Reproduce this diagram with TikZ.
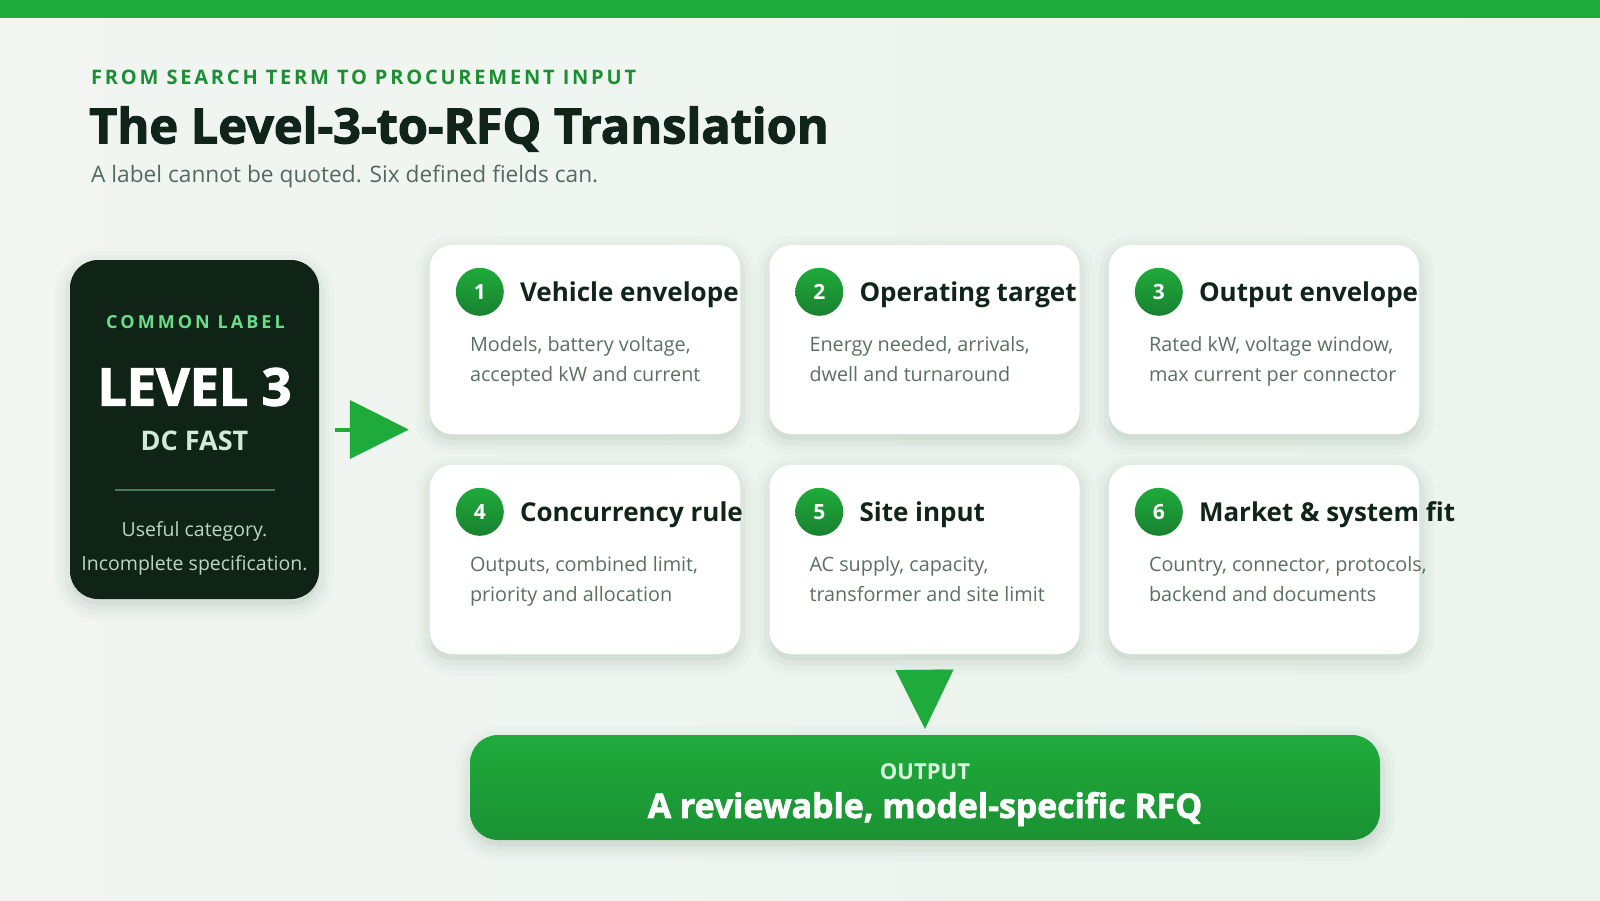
\documentclass[tikz,border=0pt]{standalone}
\usepackage{fontspec}
\setmainfont{Open Sans}
\newfontfamily\heavyfont[BoldFeatures={FakeBold=2.2}]{Open Sans}
\usetikzlibrary{positioning,calc,arrows.meta}

\definecolor{topgreen}{HTML}{1FAB3B}
\definecolor{kickgreen}{HTML}{1C8F34}
\definecolor{inkdark}{HTML}{10241A}
\definecolor{subgray}{HTML}{56695D}
\definecolor{bodygray}{HTML}{5C6F63}
\definecolor{darkcard}{HTML}{0F2417}
\definecolor{lightgreen}{HTML}{6BDC8A}
\definecolor{palegreen}{HTML}{CFEBD6}
\definecolor{notegreen}{HTML}{BCD6C2}
\definecolor{rulegreen}{HTML}{4B7A57}
\definecolor{outpale}{HTML}{D8F6DE}
\definecolor{bgleft}{HTML}{F2F5F2}
\definecolor{bgright}{HTML}{EAF4EC}
\definecolor{shadowgreen}{HTML}{1E4A2C}

% soft shadow from a few wide, faint strokes
\tikzstyle{softshadow}=[
  preaction={draw=shadowgreen, line width=30pt, opacity=0.018, transform canvas={yshift=-6pt}},
  preaction={draw=shadowgreen, line width=20pt, opacity=0.025, transform canvas={yshift=-6pt}},
  preaction={draw=shadowgreen, line width=11pt, opacity=0.035, transform canvas={yshift=-6pt}},
  preaction={fill=shadowgreen, opacity=0.05, transform canvas={yshift=-6pt}}]
\tikzstyle{card}=[rounded corners=22pt, fill=white, minimum width=310pt, minimum height=189pt, inner sep=0pt, softshadow]
\tikzstyle{numdot}=[circle, minimum size=48pt, inner sep=0pt, top color=topgreen, bottom color=kickgreen!90!black,
  text=white, font=\fontsize{21pt}{25pt}\selectfont\bfseries]
\tikzstyle{cardtitle}=[anchor=west, inner sep=0pt, text=inkdark, font=\fontsize{26pt}{31pt}\selectfont\bfseries]
\tikzstyle{cardbody}=[anchor=north west, inner sep=0pt, align=left, text=bodygray,
  font=\fontsize{19.8pt}{30.5pt}\selectfont]

\begin{document}
\begin{tikzpicture}[x=1pt, y=-1pt]

% page and background
\useasboundingbox (0,0) rectangle (1600,900);
\shade[left color=bgleft, right color=bgright] (0,0) rectangle (1600,900);
\fill[topgreen] (0,0) rectangle (1600,18);

% header
\node[anchor=west, inner sep=0pt, text=kickgreen, font=\fontsize{20pt}{24pt}\selectfont\bfseries\addfontfeatures{LetterSpace=14}] (kicker) at (91,77.5) {FROM SEARCH TERM TO PROCUREMENT INPUT};
\node[anchor=west, inner sep=0pt, text=inkdark, font=\fontsize{48.7pt}{56pt}\heavyfont\bfseries] (title) at (89,129) {The Level-3-to-RFQ Translation};
\node[anchor=west, inner sep=0pt, text=subgray, font=\fontsize{22.7pt}{27pt}\selectfont] (subtitle) at (91,177) {A label cannot be quoted. Six defined fields can.};

% the common label
\node[rounded corners=28pt, fill=darkcard, minimum width=249pt, minimum height=339pt, softshadow] (lvl) at (194.5,429.5) {};
\node[text=lightgreen, font=\fontsize{18pt}{22pt}\selectfont\bfseries\addfontfeatures{LetterSpace=17}] (lvlkick) at (195.5,322.5) {COMMON LABEL};
\node[text=white, font=\fontsize{52pt}{60pt}\heavyfont\bfseries] (lvlname) at (194.5,387) {LEVEL 3};
\node[text=palegreen, font=\fontsize{27pt}{32pt}\selectfont\bfseries] (lvlsub) at (194.5,441) {DC FAST};
\draw[rulegreen, line width=1.5pt] (115,490) -- (275,490);
\node[text=notegreen, align=center, font=\fontsize{19.5pt}{34pt}\selectfont] (lvlnote) at (194.5,548) {Useful category.\\Incomplete specification.};

% six defined fields
\node[card] (c1) at (585,339.5) {};
\node[card] (c2) at (924.5,339.5) {};
\node[card] (c3) at (1264,339.5) {};
\node[card] (c4) at (585,559.5) {};
\node[card] (c5) at (924.5,559.5) {};
\node[card] (c6) at (1264,559.5) {};

\node[numdot] (n1) at ($(c1.north west)+(50,47)$) {1};
\node[cardtitle] (t1) at ($(n1.center)+(40,3)$) {Vehicle envelope};
\node[cardbody] (b1) at ($(c1.north west)+(40,91)$) {Models, battery voltage,\\accepted kW and current};

\node[numdot] (n2) at ($(c2.north west)+(50,47)$) {2};
\node[cardtitle] (t2) at ($(n2.center)+(40,3)$) {Operating target};
\node[cardbody] (b2) at ($(c2.north west)+(40,91)$) {Energy needed, arrivals,\\dwell and turnaround};

\node[numdot] (n3) at ($(c3.north west)+(50,47)$) {3};
\node[cardtitle] (t3) at ($(n3.center)+(40,3)$) {Output envelope};
\node[cardbody] (b3) at ($(c3.north west)+(40,91)$) {Rated kW, voltage window,\\max current per connector};

\node[numdot] (n4) at ($(c4.north west)+(50,47)$) {4};
\node[cardtitle] (t4) at ($(n4.center)+(40,3)$) {Concurrency rule};
\node[cardbody] (b4) at ($(c4.north west)+(40,91)$) {Outputs, combined limit,\\priority and allocation};

\node[numdot] (n5) at ($(c5.north west)+(50,47)$) {5};
\node[cardtitle] (t5) at ($(n5.center)+(40,3)$) {Site input};
\node[cardbody] (b5) at ($(c5.north west)+(40,91)$) {AC supply, capacity,\\transformer and site limit};

\node[numdot] (n6) at ($(c6.north west)+(50,47)$) {6};
\node[cardtitle] (t6) at ($(n6.center)+(40,3)$) {Market \& system fit};
\node[cardbody] (b6) at ($(c6.north west)+(40,91)$) {Country, connector, protocols,\\backend and documents};

% output
\node[rounded corners=28pt, minimum width=910pt, minimum height=105pt, top color=topgreen, bottom color=topgreen!85!black, softshadow] (out) at (925,787.5) {};
\node[text=outpale, font=\fontsize{22pt}{26pt}\selectfont\bfseries] (outkick) at (925,771.5) {OUTPUT};
\node[text=white, font=\fontsize{33.8pt}{38pt}\heavyfont\bfseries] (outtext) at (925,809) {A reviewable, model-specific RFQ};

% connectors
\draw[topgreen, line width=4pt, -{Triangle[length=59pt, width=58pt]}] ($(lvl.east)+(16,0)$) -- ($(c1.west |- lvl.east)+(-21,0)$);
\draw[topgreen, line width=0.1pt, -{Triangle[length=59pt, width=58pt]}] ($(c5.south)+(0,16)$) -- ($(out.north)+(0,-6)$);

\end{tikzpicture}
\end{document}
